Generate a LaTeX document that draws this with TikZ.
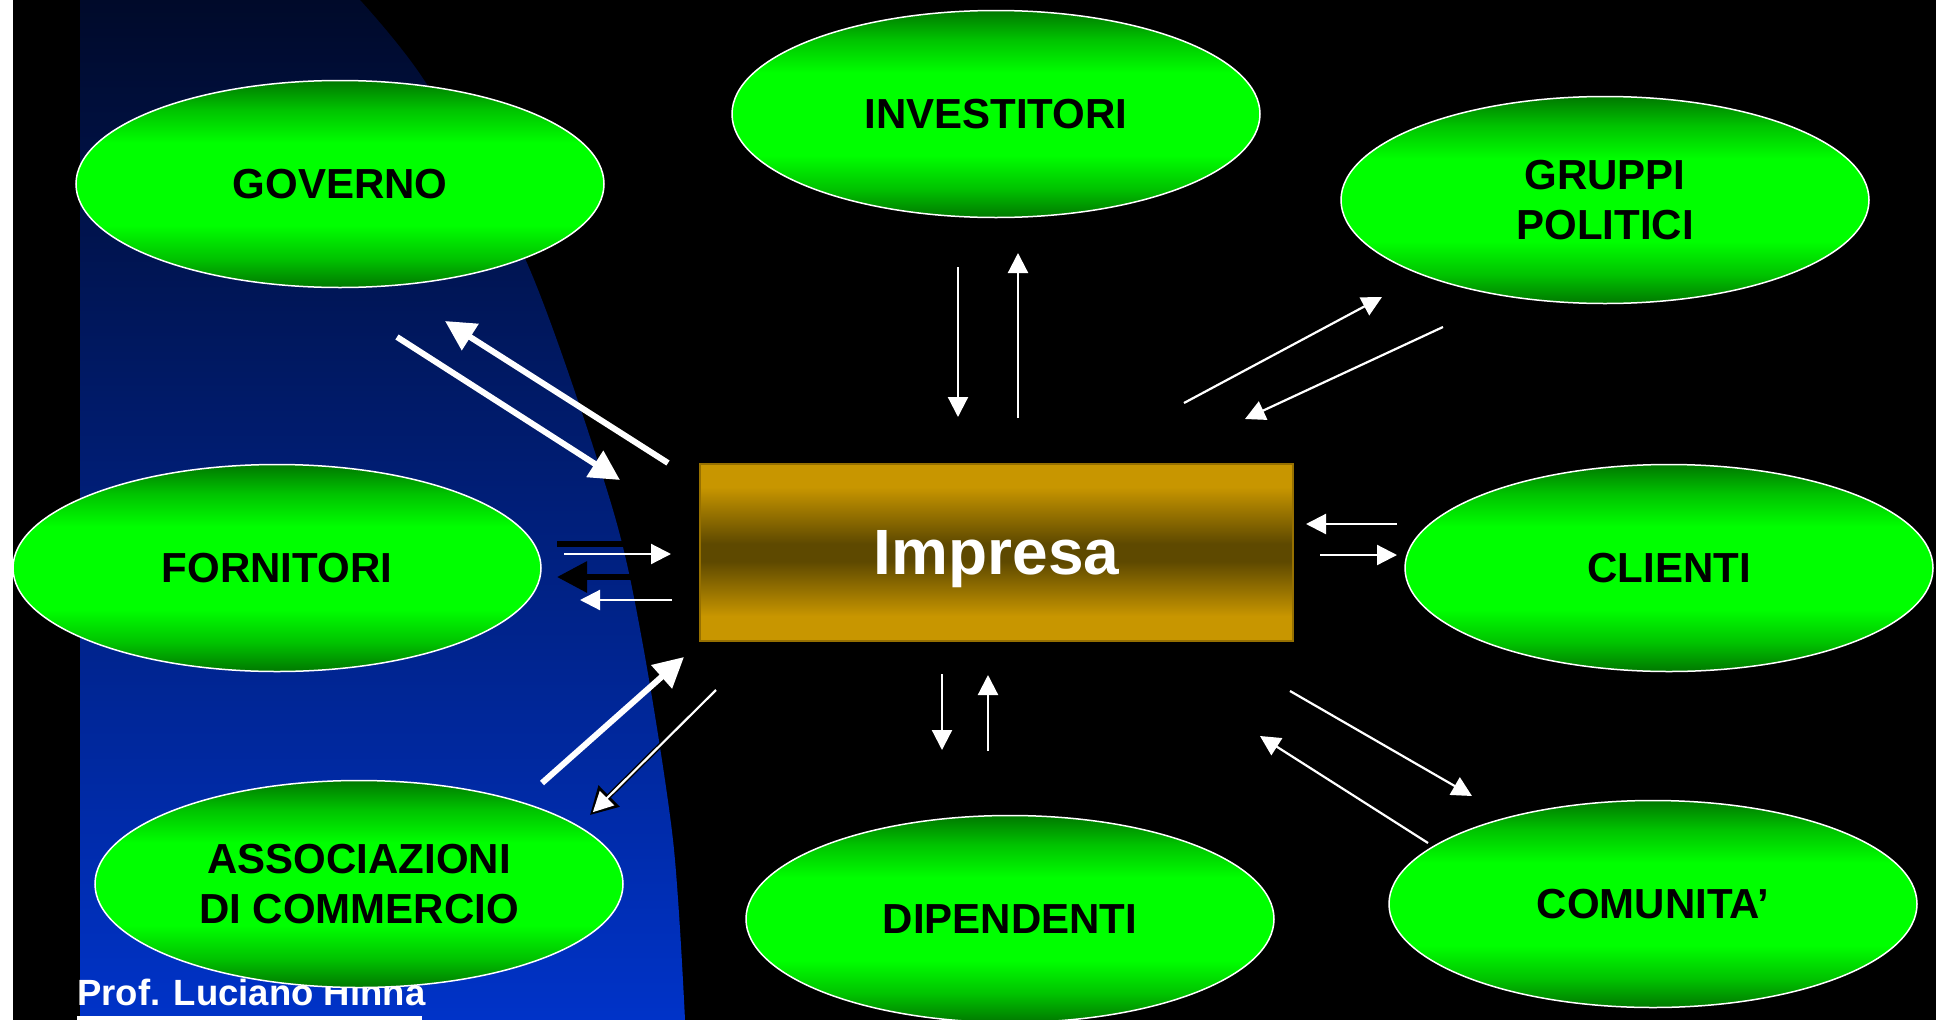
\documentclass[tikz,border=0pt]{standalone}
\usepackage{fontspec}
\setmainfont{Liberation Sans}
\definecolor{navytop}{RGB}{0,10,42}
\definecolor{navymid}{RGB}{0,38,145}
\definecolor{navybot}{RGB}{0,51,200}
\definecolor{dkgreen}{RGB}{0,120,0}
\definecolor{mdgreen}{RGB}{0,195,0}
\definecolor{ltgreen}{RGB}{0,255,0}
\definecolor{gold}{RGB}{200,150,0}
\definecolor{darkgold}{RGB}{94,73,0}
\definecolor{goldedge}{RGB}{150,112,0}
\usetikzlibrary{arrows.meta,shapes.geometric}
\pgfdeclareverticalshading{greenoval}{100bp}{color(0bp)=(dkgreen); color(25bp)=(dkgreen); color(32bp)=(mdgreen); color(40bp)=(ltgreen); color(60bp)=(ltgreen); color(68bp)=(mdgreen); color(75bp)=(dkgreen); color(100bp)=(dkgreen)}
\pgfdeclareverticalshading{goldbar}{100bp}{color(0bp)=(gold); color(32bp)=(gold); color(47.5bp)=(darkgold); color(52.5bp)=(darkgold); color(68.5bp)=(gold); color(100bp)=(gold)}
\begin{document}
\begin{tikzpicture}[x=1pt,y=-1pt,
  stake/.style={ellipse, draw=white, line width=1.5pt, shade, shading=greenoval, minimum width=528pt, minimum height=207pt, inner sep=0pt, align=center, text=black, font=\fontsize{42}{50}\selectfont\bfseries},
  firm/.style={rectangle, draw=goldedge, line width=1.5pt, shade, shading=goldbar, minimum width=593pt, minimum height=177pt, text=white, text depth=0pt, font=\fontsize{64}{72}\selectfont\bfseries},
  flow/.style={draw=white, line width=2.2pt, -{Triangle[length=20pt,width=20pt]}},
  fatflow/.style={draw=white, line width=6pt, -{Triangle[length=30pt,width=30pt]}},
  fatblack/.style={fatflow, draw=black}]
\useasboundingbox (0,0) rectangle (1936,1020);
\fill[white] (0,0) rectangle (1936,1020);
\fill[black] (13,0) rectangle (1936,1020);
\shade[top color=navytop, middle color=navymid, bottom color=navybot]
  (80,0) -- plot[smooth] coordinates {(360,0) (426,83) (527,263) (610,500) (642,640) (673,840) (685,1020)} -- (80,1020) -- cycle;

\node[anchor=base west, text=white, font=\fontsize{36.5}{40}\selectfont\bfseries, inner sep=0pt] (prof) at (77,1005) {Prof. Luciano Hinna};
\fill[white] (prof.base west |- 0,1016) rectangle (422,1020);

\node[stake] (gov) at (340,184) {GOVERNO};
\node[stake] (inv) at (996,114) {INVESTITORI};
\node[stake] (grp) at (1605,200) {GRUPPI\\POLITICI};
\node[stake] (forn) at (277,568) {FORNITORI};
\node[stake] (cli) at (1669,568) {CLIENTI};
\node[stake] (ass) at (359,884) {ASSOCIAZIONI\\DI COMMERCIO};
\node[stake] (dip) at (1010,919) {DIPENDENTI};
\node[stake] (com) at (1653,904) {COMUNITA’};
\node[firm] (imp) at (996.5,552.5) {Impresa};

% governo
\coordinate (g1) at (397,337); \coordinate (g2) at (620,480);
\coordinate (g3) at (668,463); \coordinate (g4) at (445,321);
\draw[fatflow] (g1) -- (g2);
\draw[fatflow] (g3) -- (g4);
% investitori
\coordinate (i1) at (958,267); \coordinate (i2) at (958,417);
\coordinate (i3) at (1018,418); \coordinate (i4) at (1018,253);
\draw[flow] (i1) -- (i2);
\draw[flow] (i3) -- (i4);
% gruppi politici
\coordinate (p1) at (1184,403); \coordinate (p2) at (1382,297);
\coordinate (p3) at (1443,327); \coordinate (p4) at (1245,419);
\draw[flow] (p1) -- (p2);
\draw[flow] (p3) -- (p4);
% fornitori
\coordinate (f1) at (557,544); \coordinate (f2) at (690,544);
\coordinate (f3) at (690,577); \coordinate (f4) at (557,577);
\coordinate (f5) at (564,554); \coordinate (f6) at (671,554);
\coordinate (f7) at (672,600); \coordinate (f8) at (580,600);
\draw[fatblack] (f1) -- (f2);
\draw[fatblack] (f3) -- (f4);
\draw[flow] (f5) -- (f6);
\draw[flow] (f7) -- (f8);
% clienti
\coordinate (c1) at (1397,524); \coordinate (c2) at (1306,524);
\coordinate (c3) at (1320,555); \coordinate (c4) at (1397,555);
\draw[flow] (c1) -- (c2);
\draw[flow] (c3) -- (c4);
% associazioni
\coordinate (a1) at (542,783); \coordinate (a2) at (684,657);
\coordinate (a3) at (716,690); \coordinate (a4) at (590,815);
\draw[fatflow] (a1) -- (a2);
\draw[black, line width=5pt, -{Triangle[length=27pt,width=29pt]}] (a3) -- (a4);
\draw[flow, shorten >=4pt] (a3) -- (a4);
% dipendenti
\coordinate (d1) at (942,674); \coordinate (d2) at (942,750);
\coordinate (d3) at (988,751); \coordinate (d4) at (988,675);
\draw[flow] (d1) -- (d2);
\draw[flow] (d3) -- (d4);
% comunita
\coordinate (m1) at (1290,691); \coordinate (m2) at (1472,796);
\coordinate (m3) at (1428,843); \coordinate (m4) at (1260,736);
\draw[flow] (m1) -- (m2);
\draw[flow] (m3) -- (m4);
\end{tikzpicture}
\end{document}
